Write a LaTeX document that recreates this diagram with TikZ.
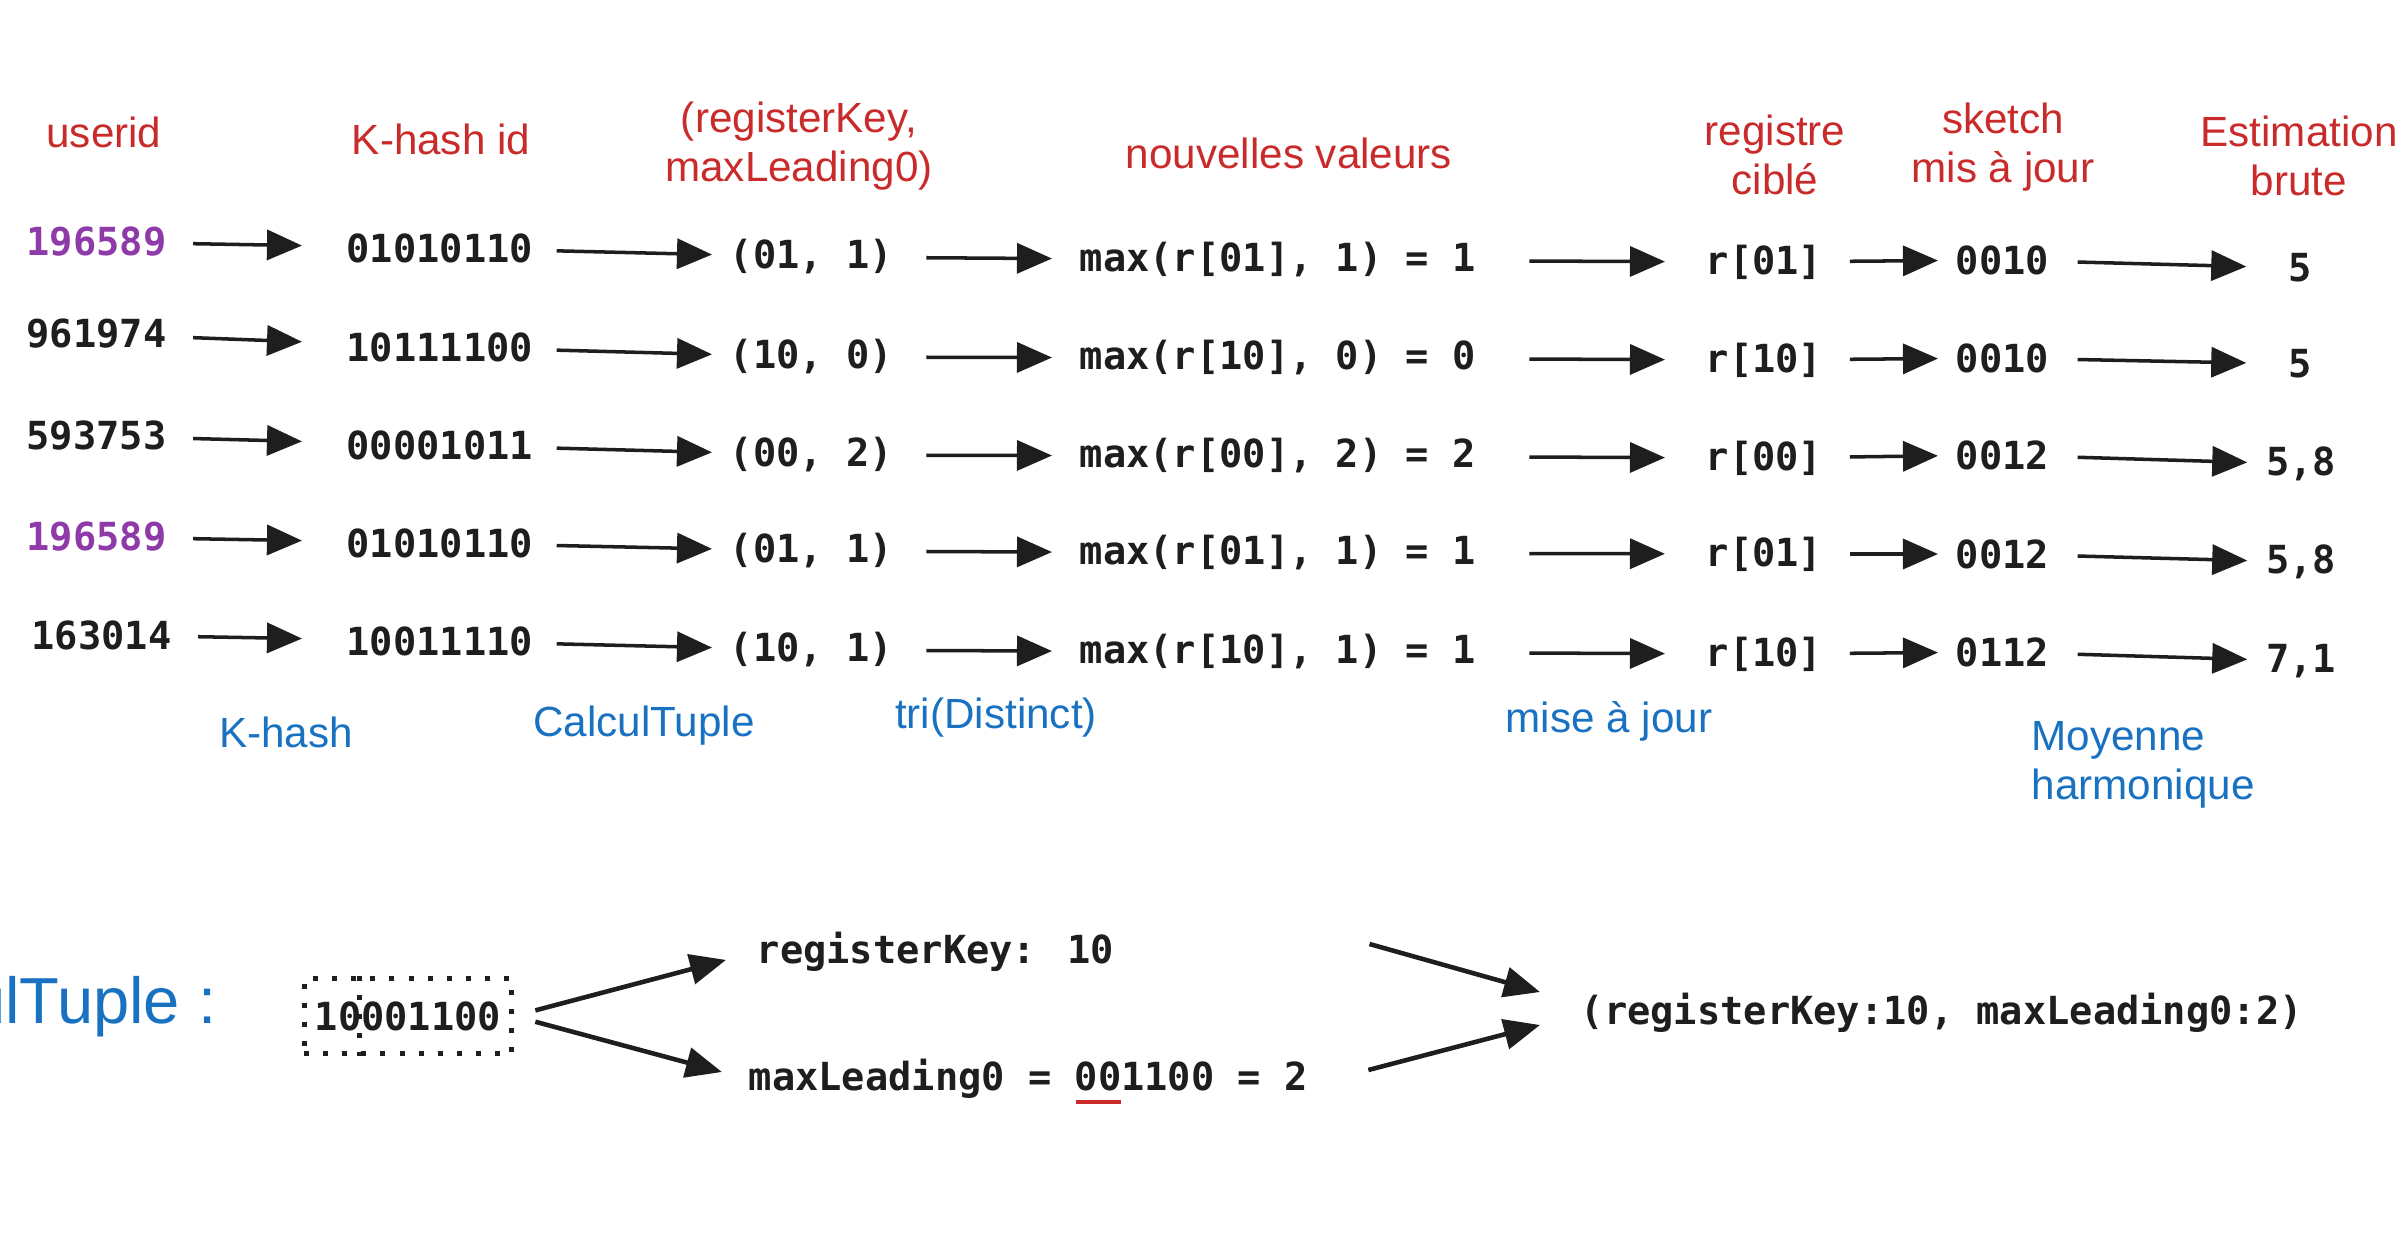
\documentclass[tikz,border=0pt]{standalone}
\usepackage{fontspec}
\setmainfont{Liberation Sans}
\newfontfamily\codefont{DejaVu Sans Mono}[BoldFont={DejaVu Sans Mono Bold}]
\usetikzlibrary{arrows.meta,calc}
\definecolor{ink}{HTML}{1E1E1E}
\definecolor{hred}{HTML}{C92A2A}
\definecolor{hblue}{HTML}{1971C2}
\definecolor{hpurple}{HTML}{8E3AA8}
\begin{document}
\begin{tikzpicture}[x=0.01cm,y=-0.01cm,
  code/.style={font=\codefont\bfseries\fontsize{11}{13}\selectfont, text=ink, inner sep=0pt, anchor=west},
  est/.style={font=\codefont\bfseries\fontsize{11}{13}\selectfont, text=ink, inner sep=0pt, minimum width=0.7cm},
  hdr/.style={font=\fontsize{12}{13.8}\selectfont, text=hred, inner sep=0pt, align=center},
  lbl/.style={font=\fontsize{12}{14}\selectfont, text=hblue, inner sep=0pt},
  arr/.style={draw=ink, line width=1pt, -{Triangle[length=0.35cm,width=0.3cm]}},
  bigarr/.style={draw=ink, line width=1.3pt, -{Triangle[length=0.36cm,width=0.3cm]}},
  dotline/.style={draw=ink, line width=0.05cm, dash pattern=on 0.05cm off 0.14cm},
  ca/.style={shorten <=0.26cm, shorten >=0.44cm},
  cb/.style={shorten <=0.23cm, shorten >=0.17cm},
  cc/.style={shorten <=0.33cm, shorten >=0.27cm},
  cd/.style={shorten <=0.53cm, shorten >=0.40cm},
  ce/.style={shorten <=0.27cm, shorten >=0.17cm},
  cf/.style={shorten <=0.28cm, shorten >=0.18cm}
]
\useasboundingbox[fill=white] (0,0) rectangle (2400,1254);

% headers
\node[hdr] (h-user) at (104,132) {userid};
\node[hdr] (h-khash) at (441,139) {K-hash id};
\node[hdr] (h-tuple) at (799,146) {(registerKey,\\maxLeading0)};
\node[hdr] (h-new) at (1289,153) {nouvelles valeurs};
\node[hdr] (h-reg) at (1775,155) {registre\\ciblé};
\node[hdr] (h-sk) at (2003,147) {sketch\\mis à jour};
\node[hdr] (h-est) at (2299,156) {Estimation\\brute};

% row 1
\node[code, text=hpurple] (u1) at (26,242) {196589};
\node[code] (k1) at (346,248) {01010110};
\node[code] (t1) at (729,257) {(01, 1)};
\node[code] (m1) at (1079,260) {max(r[01], 1) = 1};
\node[code] (r1) at (1705,262) {r[01]};
\node[code] (s1) at (1955,260) {0010};
\node[est] (e1) at (2300,268) {5};
% row 2
\node[code] (u2) at (26,334) {961974};
\node[code] (k2) at (346,347) {10111100};
\node[code] (t2) at (729,357) {(10, 0)};
\node[code] (m2) at (1079,358) {max(r[10], 0) = 0};
\node[code] (r2) at (1705,360) {r[10]};
\node[code] (s2) at (1955,358) {0010};
\node[est] (e2) at (2300,364) {5};
% row 3
\node[code] (u3) at (26,436) {593753};
\node[code] (k3) at (346,445) {00001011};
\node[code] (t3) at (729,455) {(00, 2)};
\node[code] (m3) at (1079,456) {max(r[00], 2) = 2};
\node[code] (r3) at (1705,458) {r[00]};
\node[code] (s3) at (1955,455) {0012};
\node[est] (e3) at (2301,464) {5,8};
% row 4
\node[code, text=hpurple] (u4) at (26,537) {196589};
\node[code] (k4) at (346,543) {01010110};
\node[code] (t4) at (729,551) {(01, 1)};
\node[code] (m4) at (1079,553) {max(r[01], 1) = 1};
\node[code] (r4) at (1705,554) {r[01]};
\node[code] (s4) at (1955,554) {0012};
\node[est] (e4) at (2301,562) {5,8};
% row 5
\node[code] (u5) at (31,635) {163014};
\node[code] (k5) at (346,641) {10011110};
\node[code] (t5) at (729,650) {(10, 1)};
\node[code] (m5) at (1079,652) {max(r[10], 1) = 1};
\node[code] (r5) at (1705,654) {r[10]};
\node[code] (s5) at (1955,652) {0112};
\node[est] (e5) at (2301,661) {7,1};

\foreach \i in {1,...,5}{
  \draw[arr, ca] (u\i) -- (k\i);
  \draw[arr, cb] (k\i) -- (t\i);
  \draw[arr, cc] (t\i) -- (m\i);
  \draw[arr, cd] (m\i) -- (r\i);
  \draw[arr, ce] (r\i) -- (s\i);
  \draw[arr, cf] (s\i) -- (e\i);
}

% step labels
\node[lbl] (l-kh) at (286,732) {K-hash};
\node[lbl] (l-ct) at (644,726) {CalculTuple};
\node[lbl] (l-tri) at (996,718) {tri(Distinct)};
\node[lbl] (l-maj) at (1609,721) {mise à jour};
\node[lbl, align=left, anchor=west] (l-moy) at (2031,765) {Moyenne\\harmonique};

% CalculTuple detail
\node[lbl, font=\fontsize{18.5}{22}\selectfont, anchor=east] (ct-title) at (217,1007) {CalculTuple :};
\node[code, anchor=center, dotline, minimum width=2.07cm, minimum height=0.75cm] (box) at (408,1016) {10001100};
\draw[dotline] ($(box.north west)+(58,0)$) -- ($(box.south west)+(58,0)$);
\node[code] (rk) at (756,952) {registerKey: 10};
\node[code] (ml) at (748,1079) {maxLeading0 = 001100 = 2};
\node[code] (res) at (1580,1013) {(registerKey:10, maxLeading0:2)};
\draw[hred, line width=1.4pt] ($(ml.west)+(328,23)$) -- ($(ml.west)+(373,23)$);

\draw[bigarr, shorten <=0.22cm, shorten >=0.31cm] (box.east) -- (rk.west);
\draw[bigarr, shorten <=0.22cm, shorten >=0.27cm] (box.east) -- (ml.west);
\draw[bigarr] ($(rk.east)+(255,-8)$) -- ($(res.west)+(-40,-21)$);
\draw[bigarr] ($(ml.east)+(60,-9)$) -- ($(res.west)+(-40,12)$);
\end{tikzpicture}
\end{document}
